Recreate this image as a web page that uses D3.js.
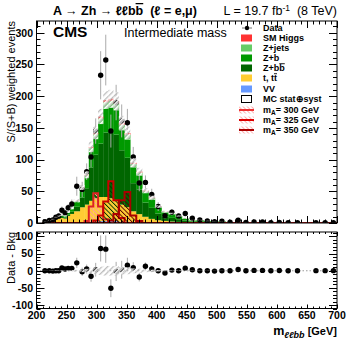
<!DOCTYPE html>
<html><head><meta charset="utf-8">
<script src="https://cdn.jsdelivr.net/npm/d3@7"></script>
<style>body{margin:0;background:#fff} svg{display:block} text{font-family:"Liberation Sans",Arial,Helvetica,sans-serif;white-space:pre}</style>
</head><body><svg id="c" width="355" height="344"></svg>
<script>
// ---------------- DATA ----------------
const binEdges = [210,218,224.5,230,234.5,239.5,245,250,255.5,262,272,280,287,294.5,302.5,311,319.5,328,337,346.5,356,366,376,386.5,397,408,419.5,431,442,453,465.5,478,490.5,502,515,529,542,555,569,583,597,611,626.5,642,657.5,672.5,688,700];
const dataVals = [2,4,5,9,11,20,16,24,30,58,53,81,104,145,233,257,145,190,161,158,104,63,64,45,26,11.5,17,11,15,7.4,4.7,3.2,2,2.7,1.1,4.3,1,1.6,1.6,0.5,1,0.5,0.5,null,0.5,0.5,0.5];
const dataErr  = [1.5,2,2.5,3,4,6,5,6,7,15,12,13,16,20,38,40,26,28,26,22,16,13,11,9,7,5,5,4,4,3,2.5,2,1.5,1.5,1,2,1,1.2,1.2,0.7,1,0.7,0.7,0,0.7,0.7,0.7];
const vv    = [0,0,0,0,0,0,0,0.2,0.3,0.5,0.8,1,2,2,3,3,3,3,2,2,1.5,1,0.8,0.5,0.4,0.3,0.3,0.2,0.2,0.1,0,0,0,0,0,0,0,0,0,0,0,0,0,0,0,0,0];
const ttbar = [1.5,3,4,6,7,8,7,11,14,18,24,28,33,37,38,38,36,32,27,23,17,13,9,6,4,3,2,1.5,1,0.6,0.5,0.4,0.3,0.3,0.1,0.05,0.05,0.03,0.03,0.02,0.02,0.02,0.02,0.01,0.01,0.01,0.01];
const zbb   = [0.2,0.4,0.75,1.2,1.5,1.5,1.5,2.2,3.4,7.1,15.5,25.8,52.7,68.7,84.3,101.6,104.4,104.4,85.7,77.9,44.3,38.9,22.4,17.4,10.6,6.8,5.8,4.3,2.9,1.7,1.9,1.3,1.25,1.1,0.45,0.35,0.44,0.27,0.22,0.13,0.13,0.13,0.13,0.09,0.09,0.09,0.09];
const zb    = [0.25,0.5,1.1,1.6,2.2,2.2,2.2,3.2,4.7,8,13,17,25,25.2,31,37.4,38.4,38.4,31.5,28.6,25,22,15,13,9,6.5,5.7,4.2,2.9,1.7,2,1.3,1.25,1.1,0.45,0.35,0.44,0.26,0.22,0.13,0.13,0.13,0.13,0.09,0.09,0.09,0.09];
const zjets = [0.05,0.1,0.15,0.2,0.3,0.3,0.3,0.4,0.6,1.1,2.1,3.2,5.8,7.1,8.7,10.5,10.7,10.7,8.8,8,5.2,4.6,2.8,2.3,1.5,1,0.9,0.6,0.4,0.3,0.3,0.2,0.2,0.2,0.1,0.05,0.07,0.04,0.03,0.02,0.02,0.02,0.02,0.01,0.01,0.01,0.01];
const smh   = [0,0,0,0,0,0,0,0,0,0.3,0.6,1,1.5,2,3,3.5,3.5,3.5,3,2.5,2,1.5,1,0.8,0.5,0.4,0.3,0.2,0.1,0.1,0,0,0,0,0,0,0,0,0,0,0,0,0,0,0,0,0];
const mcErr = [0.2,0.3,0.5,0.7,0.8,0.9,0.8,1.2,1.6,2.5,4,5.5,8.5,10,12,14,14,14,11,10,7,6,4,3,2,1.3,1.1,0.8,0.6,0.4,0.4,0.3,0.2,0.2,0.1,0.1,0.1,0.1,0.1,0.1,0.1,0.1,0.1,0.1,0.1,0.1,0.1];
const sig300 = [0,0,0,0,0,0,0,0,0,0,0,3,26,47,26,6,0,0,0,0,0,0,0,0,0,0,0,0,0,0,0,0,0,0,0,0,0,0,0,0,0,0,0,0,0,0,0];
const sig325 = [0,0,0,0,0,0,0,0,0,0,0,0,0,4,12,34,66,36,8,0,0,0,0,0,0,0,0,0,0,0,0,0,0,0,0,0,0,0,0,0,0,0,0,0,0,0,0];
const sig350 = [0,0,0,0,0,0,0,0,0,0,0,0,0,0,0,0,4,14,36,49,12,3,0,0,0,0,0,0,0,0,0,0,0,0,0,0,0,0,0,0,0,0,0,0,0,0,0];
const xTicks = [200,250,300,350,400,450,500,550,600,650,700];
const yTopTicks = [0,50,100,150,200,250,300];
const yBotTicks = [-100,-50,0,50,100];
const legendLabels = ["Data","SM Higgs","Z+jets","Z+b","Z+bb","t, tt","VV","MC stat\u2295syst","m_A= 300 GeV","m_A= 325 GeV","m_A= 350 GeV"];
const stackKeys = ["vv","tt","zbb","zb","zjets","smh"];
const stackColors = {vv:"#6699ff",tt:"#ffcc33",zbb:"#006600",zb:"#009900",zjets:"#66cc66",smh:"#ff3333"};

// ---------------- LAYOUT ----------------
const svg = d3.select("#c");
const L = 36.5, R = 337, T1 = 21, B1 = 223, T2 = 232, B2 = 308.5;
const x = d3.scaleLinear().domain([200,700]).range([L,R]);
const yT = d3.scaleLinear().domain([0,318.6]).range([B1,T1]);
const yB = d3.scaleLinear().domain([-110,113]).range([B2,T2]);

const defs = svg.append("defs");
defs.append("clipPath").attr("id","cp1").append("rect").attr("x",L).attr("y",T1).attr("width",R-L).attr("height",B1-T1);
defs.append("clipPath").attr("id","cp2").append("rect").attr("x",L).attr("y",T2).attr("width",R-L).attr("height",B2-T2);
function hatch(id, color, bg, w, ang, sp){
  const p = defs.append("pattern").attr("id",id).attr("patternUnits","userSpaceOnUse")
    .attr("width",sp).attr("height",sp).attr("patternTransform",`rotate(${ang})`);
  if(bg) p.append("rect").attr("x",sp/2).attr("y",0).attr("width",sp/2-0.3).attr("height",sp).attr("fill",bg);
  p.append("rect").attr("x",0).attr("y",0).attr("width",w).attr("height",sp).attr("fill",color);
}
hatch("mch","#bdbdbd","#ffffff",1.3,45,4);
hatch("h300","#ff9999",null,1,-45,3.2);
hatch("h325","#003300",null,0.9,-45,3.2);
hatch("h350","#550000",null,0.9,-45,3.2);
hatch("lgh","#ffb0b0",null,1,-45,3);

const nb = binEdges.length-1;
const rows = d3.range(nb).map(i=>({vv:vv[i],tt:ttbar[i],zbb:zbb[i],zb:zb[i],zjets:zjets[i],smh:smh[i]}));
const stacked = d3.stack().keys(stackKeys)(rows);
const totals = rows.map(r=>stackKeys.reduce((s,k)=>s+r[k],0));

const g1 = svg.append("g").attr("clip-path","url(#cp1)");
stacked.forEach(layer=>{
  g1.append("g").selectAll("rect").data(layer).join("rect")
    .attr("x",(d,i)=>x(binEdges[i])).attr("width",(d,i)=>x(binEdges[i+1])-x(binEdges[i])+0.3)
    .attr("y",d=>yT(d[1])).attr("height",d=>Math.max(0,yT(d[0])-yT(d[1])))
    .attr("fill",stackColors[layer.key]);
});
function stepPts(vals){
  const pts=[[binEdges[0],0]];
  vals.forEach((v,i)=>{pts.push([binEdges[i],v]);pts.push([binEdges[i+1],v]);});
  pts.push([binEdges[nb],0]);
  return pts;
}
const sline = d3.line().x(d=>x(d[0])).y(d=>yT(d[1]));
[[sig300,"h300","#dd2222"],[sig325,"h325","#cc0000"],[sig350,"h350","#aa0000"]].forEach(([s,pid,col])=>{
  g1.append("path").attr("d",sline(stepPts(s))+"Z").attr("fill",`url(#${pid})`).attr("stroke","none");
  g1.append("path").attr("d",sline(stepPts(s))).attr("fill","none").attr("stroke",col).attr("stroke-width",2);
});
const dIdx = d3.range(nb).filter(i=>dataVals[i]!==null);
const cen = i=>(binEdges[i]+binEdges[i+1])/2;
g1.append("g").selectAll("line").data(dIdx).join("line")
  .attr("x1",i=>x(cen(i))).attr("x2",i=>x(cen(i)))
  .attr("y1",i=>yT(dataVals[i]-dataErr[i])).attr("y2",i=>yT(dataVals[i]+dataErr[i]))
  .attr("stroke","#aaaaaa").attr("stroke-width",1);
g1.append("g").selectAll("circle").data(dIdx).join("circle")
  .attr("cx",i=>x(cen(i))).attr("cy",i=>yT(dataVals[i])).attr("r",2.7).attr("fill","#000");
g1.append("g").selectAll("rect").data(d3.range(nb)).join("rect")
  .attr("x",i=>x(binEdges[i])).attr("width",i=>x(binEdges[i+1])-x(binEdges[i]))
  .attr("y",i=>yT(totals[i]+mcErr[i])).attr("height",i=>yT(totals[i]-mcErr[i])-yT(totals[i]+mcErr[i]))
  .attr("fill","url(#mch)");

const g2 = svg.append("g").attr("clip-path","url(#cp2)");
g2.append("line").attr("x1",L).attr("x2",R).attr("y1",yB(0)).attr("y2",yB(0)).attr("stroke","#999").attr("stroke-dasharray","1.5,2");
const diff = i=>dataVals[i]-totals[i];
g2.append("g").selectAll("line").data(dIdx).join("line")
  .attr("x1",i=>x(cen(i))).attr("x2",i=>x(cen(i)))
  .attr("y1",i=>yB(diff(i)-dataErr[i])).attr("y2",i=>yB(diff(i)+dataErr[i]))
  .attr("stroke","#aaaaaa");
g2.append("g").selectAll("circle").data(dIdx).join("circle")
  .attr("cx",i=>x(cen(i))).attr("cy",i=>yB(diff(i))).attr("r",2.7).attr("fill","#000");
g2.append("g").selectAll("rect").data(d3.range(nb)).join("rect")
  .attr("x",i=>x(binEdges[i])).attr("width",i=>x(binEdges[i+1])-x(binEdges[i]))
  .attr("y",i=>yB(mcErr[i])).attr("height",i=>yB(-mcErr[i])-yB(mcErr[i]))
  .attr("fill","url(#mch)");

function frame(t,b){svg.append("rect").attr("x",L).attr("y",t).attr("width",R-L).attr("height",b-t).attr("fill","none").attr("stroke","#000").attr("stroke-width",1);}
frame(T1,B1); frame(T2,B2);
function xt(t,b,maj,min){
  const g=svg.append("g").attr("stroke","#000").attr("stroke-width",1);
  d3.range(200,701,10).forEach(v=>{
    const len = v%50===0?maj:min; const px=Math.round(x(v))+0.5;
    g.append("line").attr("x1",px).attr("x2",px).attr("y1",b).attr("y2",b-len);
    g.append("line").attr("x1",px).attr("x2",px).attr("y1",t).attr("y2",t+len);
  });
}
xt(T1,B1,7,3.5); xt(T2,B2,4,2);
function yt(sc,lo,hi,maj,min){
  const g=svg.append("g").attr("stroke","#000").attr("stroke-width",1);
  for(let v=lo; v<=hi; v+=10){
    const len = v%50===0?maj:min; const py=Math.round(sc(v))+0.5;
    g.append("line").attr("x1",L).attr("x2",L+len).attr("y1",py).attr("y2",py);
    g.append("line").attr("x1",R).attr("x2",R-len).attr("y1",py).attr("y2",py);
  }
}
yt(yT,0,310,8,4); yt(yB,-110,110,8,4);
svg.append("g").selectAll("text").data(yTopTicks).join("text").attr("x",33).attr("y",d=>yT(d)+3.8)
  .attr("text-anchor","end").attr("font-weight","bold").attr("font-size","10.5px").text(d=>d);
svg.append("g").selectAll("text").data(yBotTicks).join("text").attr("x",33).attr("y",d=>yB(d)+3.8)
  .attr("text-anchor","end").attr("font-weight","bold").attr("font-size","10.5px").text(d=>d);
svg.append("g").selectAll("text").data(xTicks).join("text").attr("x",d=>x(d)).attr("y",319)
  .attr("text-anchor","middle").attr("font-weight","bold").attr("font-size","10.5px").text(d=>d);

svg.append("text").attr("transform","translate(15,21) rotate(-90)").attr("text-anchor","end").attr("font-size","11px").text("S/(S+B) weighted events");
svg.append("text").attr("transform","translate(15,232) rotate(-90)").attr("text-anchor","end").attr("font-size","11px").text("Data - Bkg");
const xl = svg.append("text").attr("x",337).attr("y",335).attr("text-anchor","end").attr("font-weight","bold").attr("font-size","12.5px");
xl.append("tspan").text("m");
xl.append("tspan").attr("font-size","9px").attr("font-style","italic").attr("dy",2.5).text("\u2113\u2113bb");
xl.append("tspan").attr("dy",-2.5).attr("font-size","11px").text(" [GeV]");

const tt = svg.append("text").attr("x",53).attr("y",15).attr("font-weight","bold").attr("font-size","12.5px");
tt.append("tspan").text("A \u2192 Zh \u2192 \u2113\u2113b");
tt.append("tspan").style("text-decoration","overline").text("b");
tt.append("tspan").text("  (\u2113 = e,\u03bc)");
const lt = svg.append("text").attr("x",337).attr("y",15).attr("text-anchor","end").attr("font-size","12.5px");
lt.append("tspan").text("L = 19.7 fb");
lt.append("tspan").attr("dy",-4).attr("font-size","8.5px").text("-1");
lt.append("tspan").attr("dy",4).text("  (8 TeV)");

svg.append("text").attr("x",53).attr("y",37).attr("font-weight","bold").attr("font-size","15.5px").text("CMS");
svg.append("text").attr("x",124).attr("y",37).attr("font-size","12.5px").text("Intermediate mass");

const lg = svg.append("g");
const ly = [28,38,48,58,68,78,89,99,110,120,130];
const lx0=241, lw=11;
legendLabels.forEach((lbl,i)=>{
  const cy = ly[i];
  if(i===0){
    lg.append("line").attr("x1",242).attr("x2",252).attr("y1",cy).attr("y2",cy).attr("stroke","#777");
    lg.append("circle").attr("cx",247).attr("cy",cy).attr("r",2.2).attr("fill","#000");
  } else if(i<=6){
    const key = stackKeys[6-i];
    lg.append("rect").attr("x",lx0).attr("y",cy-3.5).attr("width",lw).attr("height",7).attr("fill",stackColors[key]);
  } else if(i===7){
    lg.append("rect").attr("x",lx0+0.5).attr("y",cy-3.5).attr("width",lw-1).attr("height",7).attr("fill","#fff").attr("stroke","#000");
  } else {
    const col = ["#ee3333","#dd0000","#aa0000"][i-8];
    lg.append("rect").attr("x",lx0-2).attr("y",cy-3.5).attr("width",lw+4).attr("height",7).attr("fill","url(#lgh)");
    lg.append("line").attr("x1",lx0-2).attr("x2",lx0+lw+2).attr("y1",cy).attr("y2",cy).attr("stroke",col).attr("stroke-width",2);
  }
  const t = lg.append("text").attr("x",263).attr("y",cy+3.3).attr("font-weight","bold").attr("font-size","9px");
  if(lbl==="Z+bb"){t.append("tspan").text("Z+b");t.append("tspan").style("text-decoration","overline").text("b");}
  else if(lbl==="t, tt"){t.append("tspan").text("t, t");t.append("tspan").style("text-decoration","overline").text("t");}
  else if(lbl.startsWith("m_A")){t.append("tspan").text("m");t.append("tspan").attr("dy",2).attr("font-size","6.5px").text("A");t.append("tspan").attr("dy",-2).text(lbl.slice(3));}
  else t.text(lbl);
});
</script></body></html>
